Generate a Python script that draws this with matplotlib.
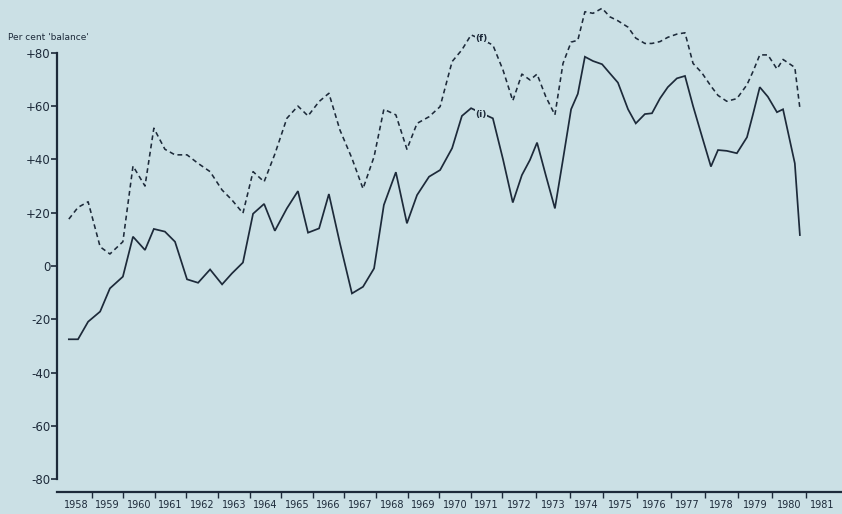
import numpy as np
import matplotlib
matplotlib.use("Agg")
import matplotlib.pyplot as plt

# ---------------- data ----------------
dates = [1958.28, 1958.57, 1958.89, 1959.27, 1959.58, 1959.99, 1960.31, 1960.69, 1960.97,
         1961.32, 1961.64, 1962.02, 1962.37, 1962.75, 1963.13, 1963.44, 1963.79, 1964.11,
         1964.46, 1964.80, 1965.18, 1965.53, 1965.85, 1966.20, 1966.51, 1966.86, 1967.24,
         1967.59, 1967.94, 1968.25, 1968.63, 1968.98, 1969.30, 1969.68, 1970.03, 1970.41,
         1970.72, 1971.01, 1971.35, 1971.70, 1972.02, 1972.31, 1972.58, 1972.82, 1973.03,
         1973.29, 1973.56, 1973.80, 1974.04, 1974.24, 1974.45, 1974.69, 1974.96, 1975.19,
         1975.43, 1975.73, 1975.96, 1976.23, 1976.44, 1976.68, 1976.91, 1977.18, 1977.42,
         1977.66, 1977.92, 1978.19, 1978.40, 1978.66, 1978.96, 1979.26, 1979.44, 1979.64,
         1979.88, 1980.15, 1980.33, 1980.68, 1980.83]

series_i = [-27.5, -27.5, -20.9, -17.1, -8.4, -4.0, 11.0, 6.0, 13.9,
            12.9, 9.1, -5.0, -6.3, -1.3, -6.9, -2.8, 1.3, 19.6,
            23.3, 13.2, 21.6, 28.1, 12.5, 14.1, 27.0, 8.5, -10.3,
            -7.8, -0.9, 22.9, 35.2, 16.0, 26.6, 33.5, 36.0, 44.2,
            56.3, 59.2, 57.3, 55.4, 40.0, 23.8, 34.1, 39.8, 46.3,
            34.0, 21.6, 40.0, 58.8, 64.6, 78.5, 76.9, 75.7, 72.3,
            68.8, 58.8, 53.5, 57.0, 57.3, 62.9, 67.1, 70.4, 71.3,
            60.0, 48.8, 37.3, 43.5, 43.2, 42.3, 48.3, 57.0, 67.1,
            63.5, 57.7, 58.8, 38.5, 11.6]

series_f = [17.6, 22.0, 24.1, 7.2, 4.5, 9.1, 37.5, 30.0, 51.7,
            43.8, 41.7, 41.7, 38.5, 35.4, 28.5, 24.8, 19.8, 35.4,
            31.6, 42.0, 55.4, 60.0, 56.3, 61.7, 64.8, 51.0, 40.4,
            29.0, 41.0, 58.8, 56.7, 43.8, 53.5, 56.0, 59.8, 76.7,
            81.1, 86.7, 85.0, 82.9, 73.5, 62.0, 72.0, 69.8, 72.0,
            63.5, 56.7, 76.0, 84.0, 84.7, 95.4, 94.8, 96.7, 93.5,
            92.0, 89.6, 85.5, 83.5, 83.5, 84.2, 85.8, 87.0, 87.5,
            76.0, 72.5, 67.5, 64.0, 61.8, 62.8, 68.0, 73.0, 79.2,
            79.2, 73.9, 77.5, 74.5, 59.2]

years = list(range(1958, 1982))
year_labels = [str(y) for y in years]
y_ticks = [80, 60, 40, 20, 0, -20, -40, -60, -80]
y_tick_labels = ["+80", "+60", "+40", "+20", "0", "-20", "-40", "-60", "-80"]
y_title = "Per cent 'balance'"
label_i = "(i)"
label_f = "(f)"

assert len(dates) == len(series_i) == len(series_f)

# ---------------- styling ----------------
BG = "#cbe0e5"
INK = "#1d2a3a"
plt.rcParams['font.family'] = ['Liberation Sans Narrow', 'DejaVu Sans']

# the original time axis is slightly wider per year from 1972 (quarterly surveys)
W1, W2, BREAK = 31.6, 33.7, 1972.0

def fwd(x):
    x = np.asarray(x, dtype=float)
    return np.where(x < BREAK, (x - 1958.0) * W1, (BREAK - 1958.0) * W1 + (x - BREAK) * W2)

def inv(u):
    u = np.asarray(u, dtype=float)
    ub = (BREAK - 1958.0) * W1
    return np.where(u < ub, 1958.0 + u / W1, BREAK + (u - ub) / W2)

fig = plt.figure(figsize=(8.42, 5.14), dpi=100, facecolor=BG)
ax = fig.add_axes([57 / 842, 22 / 514, 1 - 57 / 842, 492 / 514])
ax.set_facecolor(BG)
ax.set_xscale('function', functions=(fwd, inv))
ax.set_xlim(1957.905, 1982.08)
ax.set_ylim(-84.8, 99.8)

ax.plot(dates, series_i, color=INK, lw=1.25, solid_joinstyle='miter')
ax.plot(dates, series_f, color=INK, lw=1.15, linestyle=(0, (3, 2.2)))

# series labels
ax.text(1971.33, 57.0, label_i, fontsize=6.5, color=INK, ha='center', va='center',
        fontweight='bold', bbox=dict(boxstyle='square,pad=0.05', fc=BG, ec='none'))
ax.text(1971.33, 85.5, label_f, fontsize=6.5, color=INK, ha='center', va='center',
        fontweight='bold', bbox=dict(boxstyle='square,pad=0.05', fc=BG, ec='none'))

# spines
for s in ('top', 'right'):
    ax.spines[s].set_visible(False)
ax.spines['left'].set_bounds(-80, 80)
ax.spines['left'].set_color(INK)
ax.spines['left'].set_linewidth(1.6)
ax.spines['bottom'].set_color(INK)
ax.spines['bottom'].set_linewidth(1.6)

# y ticks
ax.set_yticks(y_ticks)
ax.set_yticklabels(y_tick_labels)
ax.tick_params(axis='y', direction='out', length=4, width=1.2, pad=0.5,
               colors=INK, labelsize=8.5)

# x axis: separators at year boundaries, labels centred in each year
ax.set_xticks(years[1:])
ax.set_xticklabels([])
ax.tick_params(axis='x', which='major', direction='out', length=4.5, width=1.0, colors=INK)
ax.set_xticks([y + 0.5 for y in years], minor=True)
ax.set_xticklabels(year_labels, minor=True)
ax.tick_params(axis='x', which='minor', length=0, pad=5.5, labelsize=7, colors=INK)

fig.text(8 / 842, 1 - 37 / 514, y_title, fontsize=6.5, color=INK, ha='left', va='center')

fig.savefig("out.png", dpi=100, facecolor=BG)
